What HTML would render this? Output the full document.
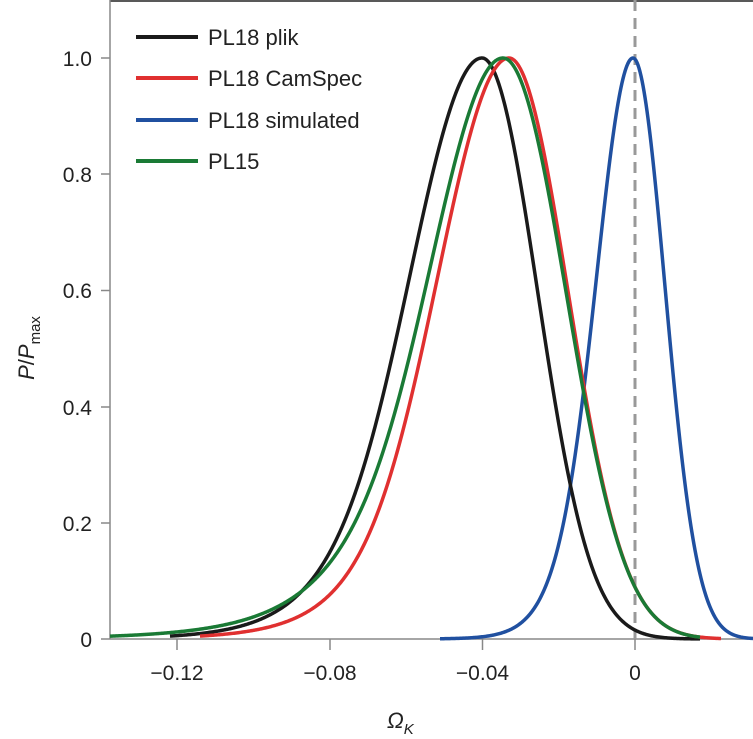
<!DOCTYPE html><html><head><style>body{margin:0;background:#fff}svg{display:block}text{font-family:"Liberation Sans",Arial,sans-serif;fill:#222}</style></head><body>
<svg id="s" width="753" height="739" viewBox="0 0 753 739">
<line x1="110" y1="1" x2="753" y2="1" stroke="#222" stroke-width="1.5"/>
<line x1="110" y1="0" x2="110" y2="639" stroke="#888" stroke-width="1.5"/>
<line x1="110" y1="639" x2="753" y2="639" stroke="#888" stroke-width="1.5"/>
<g stroke="#888" stroke-width="1.5">
<line x1="101" y1="58" x2="110" y2="58"/><line x1="101" y1="174" x2="110" y2="174"/><line x1="101" y1="290.5" x2="110" y2="290.5"/><line x1="101" y1="407" x2="110" y2="407"/><line x1="101" y1="523" x2="110" y2="523"/><line x1="101" y1="639" x2="110" y2="639"/>
<line x1="177" y1="639" x2="177" y2="650"/><line x1="330" y1="639" x2="330" y2="650"/><line x1="482.5" y1="639" x2="482.5" y2="650"/><line x1="635" y1="639" x2="635" y2="650"/>
</g>
<g font-size="21" text-anchor="end">
<text x="92" y="66">1.0</text><text x="92" y="182">0.8</text><text x="92" y="298">0.6</text><text x="92" y="415">0.4</text><text x="92" y="531">0.2</text><text x="92" y="647">0</text></g>
<g font-size="21" text-anchor="middle">
<text x="177" y="680">−0.12</text><text x="330" y="680">−0.08</text><text x="482.5" y="680">−0.04</text><text x="635" y="680">0</text></g>
<text x="387" y="728" font-size="22" font-style="italic">Ω<tspan font-size="15" dy="6">K</tspan></text>
<text transform="translate(34,348) rotate(-90)" font-size="22" text-anchor="middle"><tspan font-style="italic">P</tspan>/<tspan font-style="italic">P</tspan><tspan font-size="15" dy="6">max</tspan></text>
<line x1="635" y1="0" x2="635" y2="639" stroke="#999" stroke-width="3" stroke-dasharray="11,7"/>
<g id="c" fill="none" stroke-width="3.5" stroke-linejoin="round"></g>
<g stroke-width="4">
<line x1="136" y1="37" x2="198" y2="37" stroke="#1a1a1a"/>
<line x1="136" y1="78" x2="198" y2="78" stroke="#e03030"/>
<line x1="136" y1="120" x2="198" y2="120" stroke="#2050a0"/>
<line x1="136" y1="161" x2="198" y2="161" stroke="#1a7a35"/></g>
<g font-size="22"><text x="208" y="45">PL18 plik</text><text x="208" y="86">PL18 CamSpec</text><text x="208" y="128">PL18 simulated</text><text x="208" y="169">PL15</text></g>
</svg>
<script>
var curves=[
{c:"#2050a0",pk:633,a:440,b:753,L:[37,60,0.09,20],R:[32,0]},
{c:"#1a1a1a",pk:482,a:170,b:700,L:[74,130,0.12,30],R:[56,0.02]},
{c:"#e03030",pk:509,a:200,b:721,L:[73,140,0.13,30],R:[59,0.013]},
{c:"#1a7a35",pk:503,a:110,b:700,L:[76,115,0.16,30],R:[64,0.03]}];
function sp(z){return z>30?z:Math.log(1+Math.exp(z));}
var g=document.getElementById('c'),ns="http://www.w3.org/2000/svg";
curves.forEach(function(q){var d="";for(var x=q.a;x<=q.b;x+=1){var t=x-q.pk,s;
if(t<0){var L=q.L;s=L[0]+L[2]*L[3]*sp((-t-L[1])/L[3]);}else{s=q.R[0]-q.R[1]*t;}
var f=Math.exp(-t*t/(2*s*s));var y=639-f*581;d+=(d?"L":"M")+x+","+y.toFixed(2);}
var p=document.createElementNS(ns,"path");p.setAttribute("d",d);p.setAttribute("stroke",q.c);g.appendChild(p);});
</script>
</body></html>
